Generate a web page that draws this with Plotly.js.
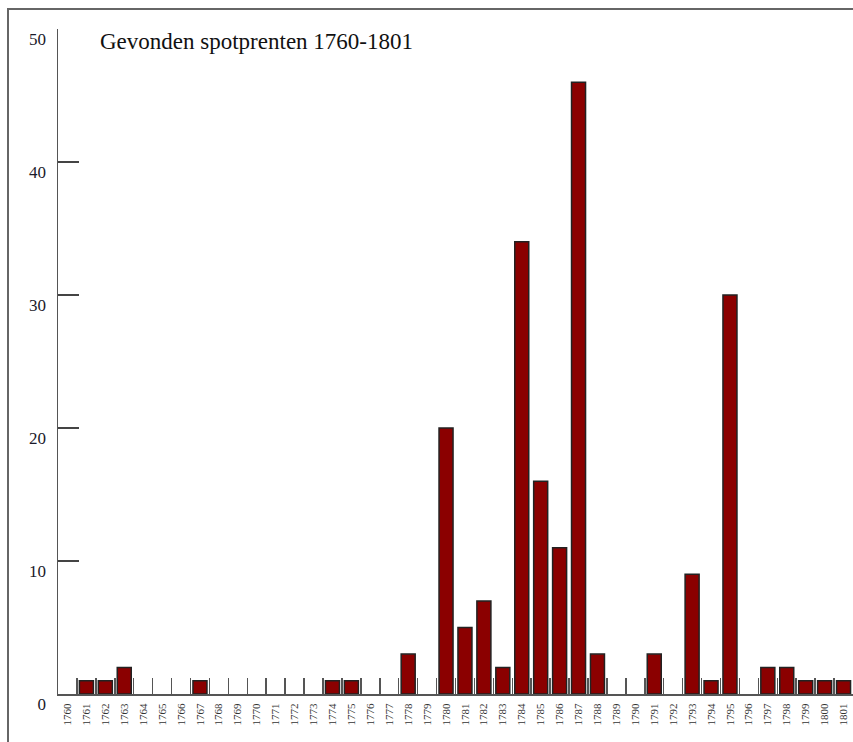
<!DOCTYPE html>
<html>
<head>
<meta charset="utf-8">
<script src="https://cdn.plot.ly/plotly-3.0.1.min.js"></script>
<style>
  html, body { margin: 0; padding: 0; background: #fff; overflow: hidden; }
  #wrap { position: relative; width: 853px; height: 742px; }
  #chart { position: absolute; left: 0; top: 0; width: 853px; height: 742px; }
  #frame { position: absolute; left: 7px; top: 8px; width: 900px; height: 800px;
           border-left: 2px solid #666; border-top: 2px solid #666; pointer-events: none; }
</style>
</head>
<body>
<div id="wrap">
  <div id="chart"></div>
  <div id="frame"></div>
</div>
<script>
const years = ["1760","1761","1762","1763","1764","1765","1766","1767","1768","1769",
  "1770","1771","1772","1773","1774","1775","1776","1777","1778","1779",
  "1780","1781","1782","1783","1784","1785","1786","1787","1788","1789",
  "1790","1791","1792","1793","1794","1795","1796","1797","1798","1799",
  "1800","1801"];
const counts = [0,1,1,2,0,0,0,1,0,0,
  0,0,0,0,1,1,0,0,3,0,
  20,5,7,2,34,16,11,46,3,0,
  0,3,0,9,1,30,0,2,2,1,
  1,1];
const yTicks = [0,10,20,30,40,50];
const titleText = "Gevonden spotprenten 1760-1801";

const trace = {
  type: 'bar',
  x: years,
  y: counts.map(v => (v === 0 ? null : v)),
  marker: { color: '#8b0000', line: { color: '#222', width: 1.5 } },
  hoverinfo: 'x+y'
};

const layout = {
  width: 853, height: 742,
  margin: { l: 57.5, r: 0, t: 28.5, b: 47.5, pad: 0 },
  paper_bgcolor: '#fff', plot_bgcolor: '#fff',
  showlegend: false,
  bargap: 0.26,
  font: { family: '"Liberation Serif", "DejaVu Serif", serif', color: '#1a1a2a' },
  title: {
    text: titleText,
    x: 100/853, xanchor: 'left', xref: 'container',
    y: 1 - 41/742, yanchor: 'middle', yref: 'container',
    font: { family: '"Liberation Serif", serif', size: 23, color: '#111' }
  },
  xaxis: {
    type: 'category',
    range: [-0.5, years.length - 0.5],
    showgrid: false, zeroline: false,
    showline: true, linecolor: '#555', linewidth: 2,
    ticks: 'inside', tickson: 'boundaries', ticklen: 16, tickwidth: 1.5, tickcolor: '#555',
    tickangle: -90,
    ticklabelstandoff: 3,
    tickfont: { family: '"Liberation Serif", serif', size: 11, color: '#333' },
    fixedrange: true
  },
  yaxis: {
    range: [0, 50],
    tickmode: 'array', tickvals: yTicks, ticktext: yTicks.map(String),
    showgrid: false, zeroline: false,
    showline: true, linecolor: '#555', linewidth: 1.5,
    ticks: 'inside', ticklen: 21, tickwidth: 1.5, tickcolor: '#444',
    ticklabelshift: 10,
    ticklabelstandoff: 7,
    tickfont: { family: '"Liberation Serif", serif', size: 17, color: '#1a1a2a' },
    fixedrange: true
  }
};

Plotly.newPlot('chart', [trace], layout, { displayModeBar: false, staticPlot: true });
</script>
</body>
</html>
